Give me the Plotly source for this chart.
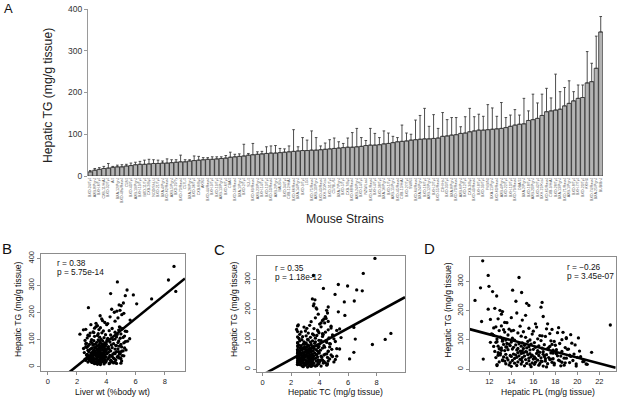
import plotly.graph_objects as go

W, H = 617, 399
FONT = "Liberation Sans, Arial, sans-serif"

# ---------------- Panel A data ----------------
strains = [
    "BXD-24/TyJ", "AXB-8/PgnJ", "BXH-6/TyJ", "CXB-11/HiAJ", "BXD-32/TyJ", "A/J", "BXA-12/PgnJ", "BXD-48a/RwwJ", "C58/J", "BXD-40/TyJ",
    "AXB-19/PgnJ", "BXH-19/TyJ", "BXD-11/TyJ", "CXB-2/ByJ", "NOD/ShiLtJ", "BXD-21/TyJ", "BXA-4/PgnJ", "BXD-62/RwwJ", "AXB-5/PgnJ", "BXD-29/Ty",
    "BXD-73/RwwJ", "C57L/J", "BXA-26/PgnJ", "BXD-36/TyJ", "CXB-6/ByJ", "AKR/J", "BXD-44/RwwJ", "BXH-9/TyJ", "BXD-19/TyJ", "AXB-13/PgnJ",
    "BXD-6/TyJ", "CBA/J", "BXD-56/RwwJ", "BXA-1/PgnJ", "BXD-2/TyJ", "SJL/J", "BXD-69/RwwJ", "AXB-23/PgnJ", "BXH-14/TyJ", "BXD-13/TyJ",
    "BXD-50/RwwJ", "AXB-2/PgnJ", "BALB/cJ", "BXD-34/TyJ", "CXB-12/HiAJ", "BXD-66/RwwJ", "BXA-14/PgnJ", "BXD-9/TyJ", "LG/J", "BXD-75/RwwJ",
    "AXB-10/PgnJ", "BXD-43/RwwJ", "BXH-20/KccJ", "BXD-31/TyJ", "C57BL/6J", "BXA-7/PgnJ", "BXD-5/TyJ", "CXB-7/ByJ", "BXD-68/RwwJ", "AXB-24/PgnJ",
    "BXD-14/TyJ", "NZW/LacJ", "BXD-61/RwwJ", "BXH-4/TyJ", "BXD-38/TyJ", "BXA-16/PgnJ", "BXD-1/TyJ", "AXB-15/PgnJ", "BXD-45/RwwJ", "CXB-13/HiAJ",
    "BXD-27/TyJ", "SWR/J", "BXD-64/RwwJ", "BXA-24/PgnJ", "BXD-16/TyJ", "AXB-12/PgnJ", "BXH-2/TyJ", "BXD-55/RwwJ", "C3H/HeJ", "BXD-33/TyJ",
    "BXA-8/PgnJ", "BXD-70/RwwJ", "AXB-6/PgnJ", "BXD-12/TyJ", "CXB-3/ByJ", "BXD-49/RwwJ", "BXH-8/TyJ", "BXD-39/TyJ", "FVB/NJ", "BXA-11/PgnJ",
    "BXD-60/RwwJ", "AXB-4/PgnJ", "BXD-22/TyJ", "BXH-10/TyJ", "BXD-79/RwwJ", "DBA/2J", "BXA-2/PgnJ", "BXD-18/TyJ", "AXB-20/PgnJ", "BXD-42/TyJ",
    "BXH-22/KccJ", "BXD-65/RwwJ", "CXB-9/HiAJ", "BXD-28/TyJ", "BXA-13/PgnJ", "BXD-71/RwwJ", "AXB-1/PgnJ", "BXD-8/TyJ", "BXH-7/TyJ", "BXD-20/TyJ",
    "KK/HlJ", "BXD-74/RwwJ", "BXA-25/PgnJ", "BUB/BnJ",
]

tg_mean = [
    10, 14, 16, 18, 19, 21, 22, 22, 24, 25,
    27, 28, 28, 29, 30, 30, 31, 31, 32, 33,
    34, 34, 36, 37, 38, 39, 40, 40, 41, 42,
    43, 45, 46, 47, 48, 50, 51, 52, 53, 54,
    55, 55, 56, 57, 58, 59, 60, 61, 61, 62,
    62, 63, 64, 65, 66, 67, 68, 69, 69, 70,
    71, 73, 74, 74, 75, 77, 78, 80, 82, 83,
    84, 86, 87, 88, 89, 89, 90, 91, 95, 96,
    98, 99, 102, 103, 106, 108, 110, 110, 111, 112,
    113, 114, 116, 119, 122, 124, 125, 133, 135, 138,
    145, 154, 156, 158, 160, 168, 174, 180, 186, 188,
    223, 226, 258, 345,
]

tg_err = [
    3, 4, 4, 5, 11, 2, 4, 5, 4, 6,
    6, 7, 10, 11, 9, 8, 5, 10, 7, 6,
    16, 5, 3, 11, 9, 5, 4, 6, 5, 4,
    6, 12, 6, 6, 28, 4, 27, 6, 6, 16,
    17, 18, 10, 8, 14, 52, 10, 31, 25, 46,
    30, 9, 15, 22, 25, 15, 10, 22, 35, 44,
    21, 12, 40, 28, 17, 31, 25, 15, 10, 39,
    19, 14, 47, 57, 73, 30, 57, 23, 57, 39,
    42, 41, 16, 39, 56, 34, 38, 33, 60, 51,
    30, 62, 24, 27, 37, 22, 61, 23, 61, 37,
    51, 56, 31, 86, 42, 44, 54, 22, 32, 30,
    75, 44, 77, 37,
]

# ---------------- Panels B-D data (one mouse per entry) ----------------
tg = [
    370, 320, 313, 283, 278, 270, 265, 262, 250, 235,
    232, 228, 225, 218, 212, 208, 205, 201, 197, 192,
    188, 184, 180, 176, 172, 168, 163, 159, 155, 151,
    148, 147, 144, 141, 140, 137, 136, 133, 132, 130,
    128, 127, 125, 124, 121, 120, 118, 117, 115, 113,
    112, 110, 109, 107, 106, 104, 103, 101, 100, 100,
    99, 98, 96, 95, 95, 93, 92, 91, 90, 88,
    88, 87, 86, 85, 84, 83, 83, 82, 81, 80,
    79, 79, 78, 77, 76, 75, 75, 74, 73, 73,
    72, 71, 71, 70, 70, 69, 68, 68, 67, 66,
    66, 65, 64, 64, 63, 62, 62, 61, 60, 60,
    59, 58, 58, 57, 56, 56, 55, 54, 54, 53,
    53, 52, 51, 51, 50, 50, 49, 48, 48, 47,
    47, 46, 45, 45, 44, 44, 43, 42, 42, 41,
    41, 40, 40, 39, 39, 38, 38, 37, 37, 36,
    35, 35, 34, 33, 33, 32, 31, 31, 30, 30,
    29, 28, 28, 27, 26, 26, 25, 24, 24, 23,
    22, 22, 21, 20, 20, 19, 18, 18, 17, 16,
    15, 15, 14, 13, 12, 12, 11, 10, 9, 8,
    145, 138, 131, 126, 119, 114, 108, 102, 97, 94,
    89, 86, 82, 78, 74, 69, 65, 61, 57, 55,
    52, 49, 46, 43, 40, 38, 35, 32, 29, 27,
    25, 23, 21, 19, 17, 14, 13, 11, 28, 33,
    160, 170, 155, 142, 135, 122, 116, 105, 92, 85,
    76, 67, 58, 48, 44, 36, 30, 24, 18, 16,
]

liver_wt = [
    8.63, 8.25, 4.76, 5.42, 8.75, 4.30, 5.85, 5.30, 7.10, 5.17,
    6.08, 4.88, 5.02, 2.78, 4.37, 4.94, 4.72, 4.55, 5.20, 5.06,
    3.58, 4.26, 4.80, 3.69, 5.63, 4.60, 3.90, 4.10, 4.03, 3.40,
    3.30, 4.90, 3.60, 4.40, 5.10, 3.50, 2.44, 4.20, 3.80, 5.40,
    3.10, 4.60, 3.70, 2.90, 5.00, 2.20, 3.95, 4.30, 3.40, 5.25,
    3.20, 4.70, 3.55, 3.85, 2.70, 4.10, 5.60, 3.65, 3.00, 4.45,
    3.45, 4.05, 3.15, 3.75, 4.85, 3.55, 2.95, 4.25, 3.35, 3.90,
    5.20, 3.60, 3.05, 4.50, 3.70, 3.25, 4.00, 2.85, 3.50, 4.35,
    3.80, 3.10, 4.65, 3.40, 3.95, 2.75, 3.65, 4.15, 3.30, 5.05,
    3.55, 3.85, 2.65, 4.40, 3.20, 3.70, 4.10, 3.00, 3.60, 4.80,
    3.35, 3.90, 2.90, 4.20, 3.50, 3.75, 5.35, 3.15, 4.00, 3.45,
    3.60, 3.10, 4.30, 3.85, 2.80, 3.45, 4.70, 3.25, 3.95, 3.55,
    4.15, 3.00, 3.70, 4.55, 3.35, 3.80, 2.95, 3.50, 4.05, 3.20,
    3.65, 4.90, 3.40, 2.70, 3.90, 3.15, 3.75, 4.25, 3.05, 3.55,
    5.10, 3.30, 3.85, 2.85, 3.60, 4.40, 3.45, 3.10, 3.70, 4.00,
    3.50, 3.05, 4.20, 3.65, 2.90, 3.35, 3.85, 4.50, 3.20, 3.70,
    3.00, 3.55, 4.10, 3.30, 3.90, 2.85, 3.60, 3.15, 4.30, 3.45,
    3.75, 3.10, 4.00, 3.40, 2.95, 3.80, 4.60, 3.25, 3.55, 3.95,
    3.05, 3.65, 4.25, 3.35, 4.70, 3.50, 3.20, 3.85, 3.40, 3.60,
    4.95, 2.60, 5.30, 3.15, 4.75, 2.85, 5.15, 4.60, 2.55, 5.45,
    4.80, 2.65, 5.00, 4.70, 2.60, 5.25, 4.60, 2.75, 5.05, 4.85,
    2.50, 4.95, 4.45, 2.65, 5.20, 4.80, 2.70, 4.95, 4.55, 2.80,
    4.65, 2.60, 5.05, 4.35, 2.75, 4.50, 5.00, 4.20, 2.55, 4.85,
    3.30, 3.75, 2.95, 3.20, 4.85, 3.45, 2.75, 4.95, 5.30, 2.60,
    4.90, 2.45, 5.15, 4.60, 2.70, 4.75, 5.00, 2.90, 4.40, 3.00,
]

hepatic_tc = [
    7.88, 7.06, 3.56, 5.31, 5.96, 4.26, 6.60, 6.99, 5.08, 3.49,
    3.67, 6.43, 5.73, 3.60, 3.56, 4.60, 3.75, 3.80, 4.49, 5.31,
    4.55, 3.90, 5.77, 4.40, 3.70, 4.30, 4.20, 3.40, 4.10, 4.00,
    2.50, 3.30, 4.80, 2.90, 6.40, 3.10, 3.60, 2.38, 4.60, 5.20,
    3.00, 3.90, 2.70, 4.40, 3.20, 9.00, 3.50, 2.60, 4.90, 3.80,
    3.05, 4.20, 2.80, 3.35, 5.50, 3.70, 2.55, 6.50, 8.60, 3.15,
    2.75, 3.20, 4.10, 2.60, 3.50, 5.10, 2.90, 3.35, 4.50, 3.05,
    2.45, 3.65, 3.00, 4.00, 2.85, 3.40, 7.70, 3.15, 2.55, 3.80,
    4.30, 2.70, 3.25, 3.55, 2.95, 4.70, 3.10, 2.50, 3.45, 3.90,
    2.80, 3.30, 4.20, 2.65, 3.60, 3.00, 5.40, 2.90, 3.20, 3.75,
    2.45, 3.40, 4.05, 2.75, 3.10, 3.55, 2.60, 3.85, 3.25, 4.60,
    3.00, 2.55, 3.40, 6.40, 2.80, 3.20, 3.65, 2.65, 3.95, 3.10,
    2.45, 3.50, 4.40, 2.90, 3.30, 2.70, 3.75, 3.05, 4.80, 2.60,
    3.45, 2.85, 3.20, 3.60, 2.50, 4.10, 3.00, 3.35, 2.75, 3.85,
    2.95, 3.25, 4.55, 2.60, 3.50, 2.85, 3.15, 3.70, 2.70, 3.40,
    2.90, 6.10, 3.30, 2.60, 3.55, 3.00, 4.20, 2.75, 3.40, 2.50,
    3.15, 3.75, 2.85, 3.25, 4.00, 2.65, 3.50, 3.05, 2.55, 3.35,
    4.40, 2.80, 3.20, 3.60, 2.95, 3.45, 2.70, 3.10, 3.85, 2.60,
    3.30, 2.90, 3.00, 3.50, 2.75, 3.25, 3.70, 3.40, 2.85, 3.15,
    2.45, 4.80, 3.85, 2.45, 4.20, 3.60, 2.45, 5.00, 3.95, 4.45,
    2.45, 4.70, 3.90, 2.45, 4.35, 5.20, 2.45, 4.60, 3.95, 2.45,
    4.50, 3.80, 2.45, 4.90, 4.15, 2.45, 4.70, 3.90, 2.45, 4.30,
    5.00, 2.45, 4.25, 3.95, 2.45, 4.50, 3.80, 4.10, 4.60, 5.10,
    4.60, 4.45, 4.35, 4.10, 5.40, 3.95, 4.25, 4.65, 3.70, 4.75,
    3.95, 4.85, 2.45, 4.30, 5.20, 2.45, 4.05, 3.90, 4.55, 2.45,
]

hepatic_pl = [
    11.40, 11.90, 14.70, 11.97, 11.20, 14.12, 12.30, 14.94, 12.67, 10.70,
    14.42, 16.80, 15.40, 15.60, 16.70, 12.50, 11.90, 12.97, 13.20, 14.50,
    13.10, 15.30, 16.90, 14.00, 12.80, 15.00, 11.30, 13.60, 17.30, 23.00,
    13.10, 14.80, 16.30, 12.40, 15.60, 13.80, 17.70, 14.20, 12.90, 16.00,
    15.10, 13.40, 18.20, 14.60, 12.20, 15.90, 19.40, 13.70, 16.60, 14.90,
    17.10, 13.00, 15.30, 20.10, 14.10, 16.40, 12.70, 18.60, 15.70, 13.50,
    14.30, 16.70, 13.20, 15.50, 17.90, 14.00, 12.60, 16.10, 15.00, 13.60,
    18.40, 14.70, 15.80, 13.30, 17.00, 14.40, 19.80, 15.20, 13.90, 16.50,
    14.90, 12.80, 17.50, 15.60, 13.50, 16.20, 14.20, 18.90, 15.40, 13.10,
    16.80, 14.60, 15.10, 12.90, 17.30, 14.10, 16.00, 19.10, 13.70, 15.70,
    14.50, 17.80, 13.40, 16.40, 15.00, 20.20, 14.80, 12.50, 16.90, 15.30,
    15.40, 21.30, 16.60, 14.60, 17.60, 15.10, 13.00, 16.30, 14.90, 18.10,
    15.70, 14.20, 16.90, 13.50, 15.50, 17.20, 14.40, 19.30, 15.90, 13.90,
    16.50, 14.70, 18.50, 15.20, 14.00, 17.00, 15.80, 13.30, 16.10, 20.00,
    14.50, 17.40, 15.00, 16.70, 13.60, 18.80, 15.60, 14.30, 16.20, 17.80,
    16.00, 11.45, 14.80, 17.50, 15.30, 13.70, 18.30, 16.40, 14.10, 19.60,
    15.60, 17.10, 13.40, 16.80, 15.00, 20.50, 14.60, 17.70, 16.20, 13.90,
    15.90, 18.90, 14.30, 16.60, 15.40, 17.30, 14.90, 20.80, 16.10, 15.70,
    13.80, 17.90, 16.50, 14.50, 15.20, 18.50, 16.90, 14.00, 15.80, 17.20,
    12.60, 17.20, 14.00, 18.70, 12.30, 16.80, 19.00, 13.20, 17.60, 12.70,
    19.50, 13.80, 18.00, 12.40, 17.40, 19.20, 13.10, 18.60, 12.80, 17.80,
    19.70, 13.00, 18.20, 20.30, 12.60, 19.00, 17.60, 13.20, 18.40, 20.60,
    12.90, 19.30, 17.90, 13.50, 20.90, 18.80, 12.70, 19.90, 16.70, 14.90,
    13.40, 12.10, 16.20, 18.30, 13.30, 17.50, 12.40, 19.00, 12.10, 17.70,
    13.60, 18.10, 16.40, 12.80, 19.40, 17.10, 13.20, 18.60, 19.90, 12.70,
]

# regression lines: (intercept, slope)
fit_b = (-85.0, 43.8)
fit_c = (-18.1, 25.9)
fit_d = (237.9, -9.89)

stats_b = ["r = 0.38", "p = 5.75e-14"]
stats_c = ["r = 0.35", "p = 1.18e-12"]
stats_d = ["r = \u22120.26", "p = 3.45e-07"]

# ---------------- layout helpers (pixel boxes) ----------------
def fx(px):
    return px / W

def fy(py):
    return 1 - py / H

fig = go.Figure()

n = len(tg_mean)
idx = list(range(n))
fig.add_trace(go.Bar(
    x=idx, y=tg_mean, xaxis="x", yaxis="y",
    marker=dict(color="#b3b3b3", line=dict(color="#1a1a1a", width=0.7)),
    error_y=dict(type="data", symmetric=False, array=tg_err, arrayminus=[0] * n,
                 color="#3a3a3a", thickness=0.9, width=1.3),
    showlegend=False,
))

panels = [
    ("2", liver_wt, fit_b),
    ("3", hepatic_tc, fit_c),
    ("4", hepatic_pl, fit_d),
]
ranges_x = {"2": [-0.48, 9.38], "3": [-0.42, 9.99], "4": [10.2, 23.49]}
ranges_y = {"2": [-16, 416], "3": [-7, 379], "4": [-5.8, 383]}

for k, xs, (b0, b1) in panels:
    fig.add_trace(go.Scatter(
        x=xs, y=tg, mode="markers", xaxis="x" + k, yaxis="y" + k,
        marker=dict(color="black", size=3.3, line=dict(width=0)),
        showlegend=False, hoverinfo="skip",
    ))
    x0, x1 = ranges_x[k]
    fig.add_trace(go.Scatter(
        x=[x0, x1], y=[b0 + b1 * x0, b0 + b1 * x1], mode="lines",
        xaxis="x" + k, yaxis="y" + k,
        line=dict(color="black", width=2.6), showlegend=False, hoverinfo="skip",
    ))

tickfont = dict(family=FONT, size=7.5, color="#222")
box_common = dict(showline=True, mirror=True, linecolor="#8c8c8c", linewidth=1,
                  ticks="outside", ticklen=3, tickcolor="#8c8c8c", showgrid=False,
                  zeroline=False, automargin=False, tickfont=tickfont, fixedrange=True)

layout = dict(
    width=W, height=H, margin=dict(l=0, r=0, t=0, b=0),
    paper_bgcolor="white", plot_bgcolor="white", bargap=0.08,
    font=dict(family=FONT, color="#222"),
    xaxis=dict(domain=[fx(88), fx(603)], range=[-0.5, n - 0.5], anchor="y",
               tickmode="array", tickvals=idx, ticktext=strains, tickangle=-90,
               tickfont=dict(family=FONT, size=3.6, color="#555"), ticks="",
               showline=False, showgrid=False, zeroline=False, automargin=False),
    yaxis=dict(domain=[fy(176), fy(9)], range=[0, 400], anchor="x",
               tickvals=[0, 100, 200, 300, 400], showline=True, linecolor="#9a9a9a",
               linewidth=1, ticks="outside", ticklen=3, tickcolor="#9a9a9a",
               showgrid=False, zeroline=False, automargin=False,
               tickfont=dict(family=FONT, size=8.5, color="#333")),
    xaxis2=dict(domain=[fx(40.7), fx(185)], range=ranges_x["2"], anchor="y2",
                tickvals=[0, 2, 4, 6, 8], **box_common),
    yaxis2=dict(domain=[fy(371), fy(254)], range=ranges_y["2"], anchor="x2",
                tickvals=[0, 100, 200, 300, 400], tickangle=-90, **box_common),
    xaxis3=dict(domain=[fx(256.7), fx(405)], range=ranges_x["3"], anchor="y3",
                tickvals=[0, 2, 4, 6, 8], **box_common),
    yaxis3=dict(domain=[fy(371.5), fy(255.7)], range=ranges_y["3"], anchor="x3",
                tickvals=[0, 100, 200, 300], tickangle=-90, **box_common),
    xaxis4=dict(domain=[fx(469.5), fx(615.7)], range=ranges_x["4"], anchor="y4",
                tickvals=[12, 14, 16, 18, 20, 22], **box_common),
    yaxis4=dict(domain=[fy(371), fy(257)], range=ranges_y["4"], anchor="x4",
                tickvals=[0, 100, 200, 300], tickangle=-90, **box_common),
)
fig.update_layout(**layout)

def label(text, px, py, size, angle=0, xanchor="center", color="#111"):
    fig.add_annotation(text=text, x=fx(px), y=fy(py), xref="paper", yref="paper",
                       showarrow=False, xanchor=xanchor, yanchor="middle",
                       textangle=angle, font=dict(family=FONT, size=size, color=color))

# panel letters
label("A", 8, 8, 13)
label("B", 7, 248, 15)
label("C", 219, 249, 15)
label("D", 429, 248, 15)

# panel A titles
label("Hepatic TG (mg/g tissue)", 48, 96, 12.2, angle=-90, color="#222")
label("Mouse Strains", 345, 219, 12.2, color="#222")

# scatter titles
ytitle = "Hepatic TG (mg/g tissue)"
label(ytitle, 18, 310, 8.6, angle=-90)
label(ytitle, 234, 310, 8.6, angle=-90)
label(ytitle, 447.7, 310, 8.6, angle=-90)
label("Liver wt (%body wt)", 112, 391.5, 8.6)
label("Hepatic TC (mg/g tissue)", 336, 391.5, 8.6)
label("Hepatic PL (mg/g tissue)", 548, 391.5, 8.6)

# statistics
for (txts, px, py0) in [(stats_b, 55, 263), (stats_c, 273, 268), (stats_d, 565, 267)]:
    label(txts[0], px, py0, 8.3, xanchor="left")
    label(txts[1], px, py0 + 9, 8.3, xanchor="left")

# the page's default body margin would shift the 617x399 figure; remove it
fig.write_html("out.html", config={"displayModeBar": False, "staticPlot": True},
               post_script="document.body.style.margin='0';document.body.style.overflow='hidden';")
